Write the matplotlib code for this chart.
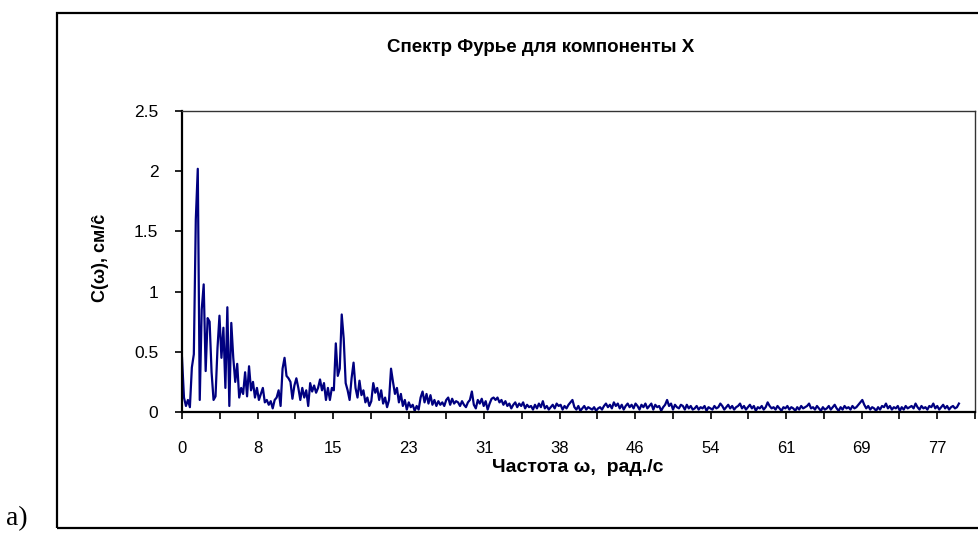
import numpy as np
import matplotlib
matplotlib.use("Agg")
import matplotlib.pyplot as plt
from matplotlib.patches import Rectangle

# spectrum C(w), one value every 0.2 rad/s
omega_step = 0.2
c_x = [
    0.45, 0.12, 0.05, 0.10, 0.04, 0.37, 0.48, 1.60, 2.02, 0.10,
    0.85, 1.06, 0.34, 0.78, 0.75, 0.33, 0.10, 0.13, 0.53, 0.80,
    0.45, 0.70, 0.20, 0.87, 0.05, 0.74, 0.45, 0.25, 0.40, 0.12,
    0.20, 0.15, 0.33, 0.13, 0.38, 0.18, 0.25, 0.12, 0.20, 0.10,
    0.15, 0.20, 0.08, 0.10, 0.06, 0.09, 0.03, 0.10, 0.12, 0.18,
    0.05, 0.36, 0.45, 0.30, 0.28, 0.25, 0.11, 0.22, 0.28, 0.20,
    0.10, 0.20, 0.12, 0.18, 0.05, 0.24, 0.17, 0.22, 0.16, 0.20,
    0.27, 0.18, 0.24, 0.10, 0.20, 0.10, 0.20, 0.18, 0.57, 0.30,
    0.36, 0.81, 0.61, 0.24, 0.18, 0.10, 0.28, 0.41, 0.20, 0.12,
    0.26, 0.14, 0.18, 0.08, 0.12, 0.05, 0.09, 0.24, 0.16, 0.20,
    0.10, 0.18, 0.07, 0.12, 0.04, 0.10, 0.36, 0.25, 0.15, 0.20,
    0.08, 0.15, 0.05, 0.10, 0.02, 0.08, 0.04, 0.06, 0.01, 0.05,
    0.02, 0.12, 0.17, 0.08, 0.15, 0.07, 0.14, 0.06, 0.10, 0.05,
    0.09, 0.06, 0.08, 0.05, 0.10, 0.12, 0.06, 0.11, 0.07, 0.09,
    0.08, 0.05, 0.09, 0.06, 0.04, 0.08, 0.10, 0.17, 0.06, 0.03,
    0.10, 0.07, 0.11, 0.05, 0.09, 0.02, 0.07, 0.11, 0.12, 0.10,
    0.12, 0.08, 0.10, 0.06, 0.09, 0.05, 0.07, 0.03, 0.06, 0.08,
    0.04, 0.07, 0.05, 0.08, 0.03, 0.06, 0.04, 0.05, 0.02, 0.06,
    0.03, 0.07, 0.04, 0.09, 0.03, 0.05, 0.02, 0.04, 0.06, 0.03,
    0.07, 0.05, 0.06, 0.02, 0.05, 0.03, 0.06, 0.08, 0.10, 0.04,
    0.02, 0.05, 0.01, 0.03, 0.05, 0.02, 0.04, 0.03, 0.02, 0.04,
    0.01, 0.03, 0.04, 0.02, 0.05, 0.07, 0.04, 0.06, 0.03, 0.08,
    0.05, 0.07, 0.03, 0.06, 0.02, 0.05, 0.07, 0.04, 0.06, 0.03,
    0.07, 0.05, 0.02, 0.06, 0.04, 0.07, 0.03, 0.05, 0.07, 0.02,
    0.06, 0.04, 0.05, 0.01, 0.04, 0.06, 0.10, 0.05, 0.07, 0.02,
    0.06, 0.04, 0.03, 0.06, 0.05, 0.02, 0.06, 0.03, 0.05, 0.02,
    0.03, 0.05, 0.02, 0.04, 0.03, 0.05, 0.01, 0.04, 0.03, 0.02,
    0.05, 0.03, 0.04, 0.07, 0.05, 0.02, 0.04, 0.06, 0.03, 0.05,
    0.02, 0.04, 0.05, 0.07, 0.03, 0.05, 0.02, 0.04, 0.06, 0.03,
    0.05, 0.01, 0.04, 0.03, 0.05, 0.02, 0.04, 0.08, 0.05, 0.03,
    0.04, 0.02, 0.05, 0.03, 0.01, 0.04, 0.03, 0.05, 0.02, 0.04,
    0.03, 0.01, 0.04, 0.02, 0.05, 0.03, 0.04, 0.05, 0.07, 0.03,
    0.04, 0.02, 0.05, 0.03, 0.01, 0.04, 0.02, 0.03, 0.05, 0.02,
    0.04, 0.06, 0.03, 0.01, 0.04, 0.02, 0.05, 0.03, 0.04, 0.02,
    0.05, 0.03, 0.04, 0.06, 0.08, 0.10, 0.06, 0.03, 0.05, 0.02,
    0.04, 0.03, 0.01, 0.04, 0.02, 0.05, 0.04, 0.07, 0.03, 0.05,
    0.02, 0.04, 0.03, 0.05, 0.01, 0.04, 0.02, 0.05, 0.03, 0.04,
    0.05, 0.03, 0.07, 0.04, 0.02, 0.05, 0.03, 0.04, 0.02, 0.05,
    0.04, 0.07, 0.03, 0.05, 0.02, 0.04, 0.06, 0.03, 0.05, 0.02,
    0.04, 0.05, 0.03, 0.04, 0.07,
]
# category labels shown on the axis (Excel shows every 2nd tick label)
x_tick_step = 7.66
x_tick_labels = ["0", "8", "15", "23", "31", "38", "46", "54", "61", "69", "77"]
y_ticks = [0, 0.5, 1, 1.5, 2, 2.5]
y_tick_labels = ["0", "0.5", "1", "1.5", "2", "2.5"]

W, H = 979, 542
fig = plt.figure(figsize=(W / 100, H / 100), dpi=100)
fig.patch.set_facecolor("white")
plt.rcParams["font.family"] = ["Liberation Sans", "DejaVu Sans"]

# plot area in pixels: x 182..975, y 111..412
ax = fig.add_axes([182 / W, 1 - 412 / H, (975 - 182) / W, (412 - 111) / H])

omega = np.arange(len(c_x)) * omega_step
ax.plot(omega, c_x, color="#000080", lw=1.6)

ax.set_xlim(0, 78.9)
ax.set_ylim(0, 2.5)

major = np.arange(len(x_tick_labels)) * x_tick_step
ax.set_xticks(major)
ax.set_xticklabels(x_tick_labels)
ax.set_xticks(major + x_tick_step / 2, minor=True)
ax.set_yticks(y_ticks)
ax.set_yticklabels(y_tick_labels)

ax.tick_params(axis="x", which="both", direction="out", length=5, width=1.2,
               pad=16, labelsize=12, color="black")
ax.tick_params(axis="y", direction="out", length=5, width=1.2, pad=12,
               labelsize=12.5)

for side in ["left", "bottom"]:
    ax.spines[side].set_linewidth(1.6)
    ax.spines[side].set_color("black")
for side in ["top", "right"]:
    ax.spines[side].set_linewidth(1.0)
    ax.spines[side].set_color("#333333")

# texts
fig.text(541 / W, 1 - 48 / H, "Спектр Фурье для компоненты X",
         ha="center", va="center", fontsize=13.5, fontweight="bold")
fig.text(578 / W, 1 - 467 / H, "Частота ω,  рад./с",
         ha="center", va="center", fontsize=14, fontweight="bold")
fig.text(101 / W, 1 - 258 / H, "C(ω), см/ĉ", rotation=90,
         ha="center", va="center", fontsize=13, fontweight="bold")
fig.text(17 / W, 1 - 519 / H, "а)", ha="center", va="center",
         fontsize=20, family=["Liberation Serif", "DejaVu Serif"])

# chart frame (right edge is cut off in the source)
frame = Rectangle((57 / W, 1 - 528 / H), 1.0, (528 - 13) / H,
                  transform=fig.transFigure, fill=False, lw=1.6,
                  edgecolor="black", clip_on=False)
fig.patches.append(frame)

fig.savefig("out.png", dpi=100)
